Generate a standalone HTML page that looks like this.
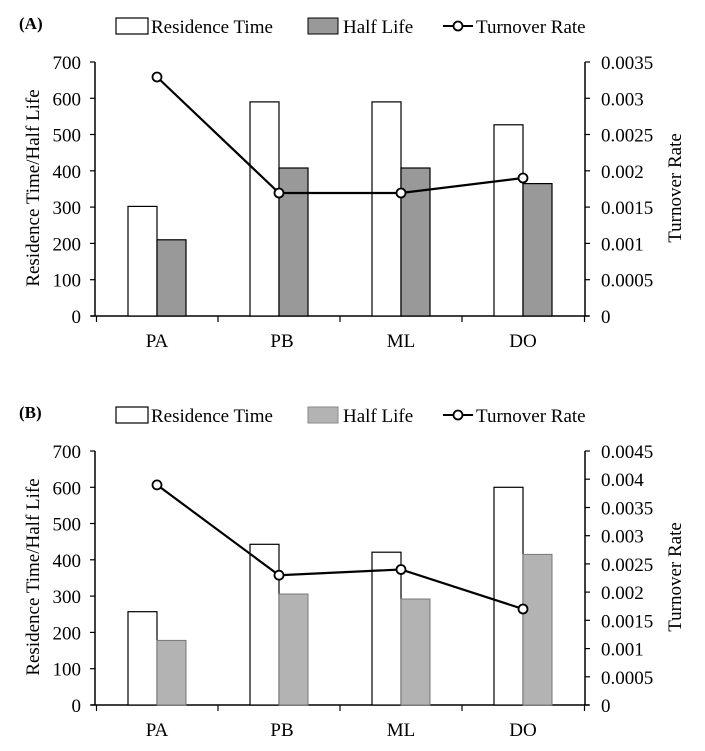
<!DOCTYPE html>
<html><head><meta charset="utf-8"><style>
html,body{margin:0;padding:0;background:#fff;}
svg{display:block;font-family:"Liberation Serif",serif;}
</style></head><body>
<svg width="705" height="751" viewBox="0 0 705 751" xmlns="http://www.w3.org/2000/svg">
<defs>
<g id="frame">
  <line x1="95" y1="62" x2="95" y2="316" stroke="#000" stroke-width="1.5"/>
  <line x1="585" y1="62" x2="585" y2="316" stroke="#000" stroke-width="1.5"/>
  <line x1="91" y1="316" x2="589" y2="316" stroke="#000" stroke-width="1.5"/>
  <g stroke="#000" stroke-width="1.2">
    <line x1="90" y1="316" x2="95" y2="316"/><line x1="90" y1="279.7" x2="95" y2="279.7"/>
    <line x1="90" y1="243.4" x2="95" y2="243.4"/><line x1="90" y1="207.1" x2="95" y2="207.1"/>
    <line x1="90" y1="170.8" x2="95" y2="170.8"/><line x1="90" y1="134.5" x2="95" y2="134.5"/>
    <line x1="90" y1="98.3" x2="95" y2="98.3"/><line x1="90" y1="62" x2="95" y2="62"/>
    <line x1="96.5" y1="316" x2="96.5" y2="322"/><line x1="218" y1="316" x2="218" y2="322"/>
    <line x1="340" y1="316" x2="340" y2="322"/><line x1="462" y1="316" x2="462" y2="322"/>
    <line x1="584.5" y1="316" x2="584.5" y2="322"/>
  </g>
  <g font-size="19" text-anchor="end" fill="#000">
    <text x="81" y="323">0</text><text x="81" y="286.7">100</text><text x="81" y="250.4">200</text>
    <text x="81" y="214.1">300</text><text x="81" y="177.8">400</text><text x="81" y="141.5">500</text>
    <text x="81" y="105.3">600</text><text x="81" y="69">700</text>
  </g>
  <g font-size="19" text-anchor="middle" fill="#000">
    <text x="157" y="347">PA</text><text x="282" y="347">PB</text>
    <text x="401" y="347">ML</text><text x="523" y="347">DO</text>
  </g>
  <text transform="translate(39,188) rotate(-90)" font-size="19" text-anchor="middle">Residence Time/Half Life</text>
  <text transform="translate(681,188) rotate(-90)" font-size="19" text-anchor="middle">Turnover Rate</text>
  <g font-size="19">
    <rect x="116" y="18" width="32" height="16" fill="#fff" stroke="#000" stroke-width="1.2"/>
    <text x="151" y="33">Residence Time</text>
    <text x="343" y="33">Half Life</text>
    <line x1="443" y1="26" x2="473" y2="26" stroke="#000" stroke-width="2"/>
    <circle cx="458" cy="26" r="4.5" fill="#fff" stroke="#000" stroke-width="1.8"/>
    <text x="476" y="33">Turnover Rate</text>
  </g>
</g>
</defs>

<!-- Panel A -->
<text x="19" y="29" font-size="17" font-weight="bold">(A)</text>
<use href="#frame"/>
<rect x="308" y="18" width="30" height="16" fill="#999" stroke="#000" stroke-width="1"/>
<g stroke="#000" stroke-width="1.2">
  <rect x="128" y="206.4" width="29" height="109.6" fill="#fff"/>
  <rect x="157" y="239.8" width="29" height="76.2" fill="#999"/>
  <rect x="250" y="101.9" width="29" height="214.1" fill="#fff"/>
  <rect x="279" y="168" width="29" height="148" fill="#999"/>
  <rect x="372" y="101.9" width="29" height="214.1" fill="#fff"/>
  <rect x="401" y="168" width="29" height="148" fill="#999"/>
  <rect x="494" y="124.8" width="29" height="191.2" fill="#fff"/>
  <rect x="523" y="183.6" width="29" height="132.4" fill="#999"/>
</g>
<g stroke="#000" stroke-width="1.2">
  <line x1="585" y1="316" x2="590" y2="316"/><line x1="585" y1="279.7" x2="590" y2="279.7"/>
  <line x1="585" y1="243.4" x2="590" y2="243.4"/><line x1="585" y1="207.1" x2="590" y2="207.1"/>
  <line x1="585" y1="170.8" x2="590" y2="170.8"/><line x1="585" y1="134.5" x2="590" y2="134.5"/>
  <line x1="585" y1="98.3" x2="590" y2="98.3"/><line x1="585" y1="62" x2="590" y2="62"/>
</g>
<g font-size="19">
  <text x="601" y="323">0</text><text x="601" y="286.7">0.0005</text><text x="601" y="250.4">0.001</text>
  <text x="601" y="214.1">0.0015</text><text x="601" y="177.8">0.002</text><text x="601" y="141.5">0.0025</text>
  <text x="601" y="105.3">0.003</text><text x="601" y="69">0.0035</text>
</g>
<polyline points="157,77 279,193 401,193 523,178" fill="none" stroke="#000" stroke-width="2.2"/>
<g fill="#fff" stroke="#000" stroke-width="1.8">
  <circle cx="157" cy="77" r="4.5"/><circle cx="279" cy="193" r="4.5"/>
  <circle cx="401" cy="193" r="4.5"/><circle cx="523" cy="178" r="4.5"/>
</g>

<!-- Panel B -->
<g transform="translate(0,389)">
<text x="19" y="29" font-size="17" font-weight="bold">(B)</text>
<use href="#frame"/>
<rect x="308" y="18" width="30" height="16" fill="#b3b3b3" stroke="#888" stroke-width="1"/>
<g stroke="#000" stroke-width="1.2">
  <rect x="128" y="222.7" width="29" height="93.3" fill="#fff"/>
  <rect x="250" y="155.3" width="29" height="160.7" fill="#fff"/>
  <rect x="372" y="163.2" width="29" height="152.8" fill="#fff"/>
  <rect x="494" y="98.3" width="29" height="217.7" fill="#fff"/>
</g>
<g stroke="#777" stroke-width="1" fill="#b3b3b3">
  <rect x="157" y="251.4" width="29" height="64.6"/>
  <rect x="279" y="205" width="29" height="111"/>
  <rect x="401" y="210" width="29" height="106"/>
  <rect x="523" y="165.4" width="29" height="150.6"/>
</g>
<g stroke="#000" stroke-width="1.2">
  <line x1="585" y1="316" x2="590" y2="316"/><line x1="585" y1="287.8" x2="590" y2="287.8"/>
  <line x1="585" y1="259.6" x2="590" y2="259.6"/><line x1="585" y1="231.3" x2="590" y2="231.3"/>
  <line x1="585" y1="203.1" x2="590" y2="203.1"/><line x1="585" y1="174.9" x2="590" y2="174.9"/>
  <line x1="585" y1="146.7" x2="590" y2="146.7"/><line x1="585" y1="118.5" x2="590" y2="118.5"/>
  <line x1="585" y1="90.2" x2="590" y2="90.2"/><line x1="585" y1="62" x2="590" y2="62"/>
</g>
<g font-size="19">
  <text x="601" y="323">0</text><text x="601" y="294.8">0.0005</text><text x="601" y="266.6">0.001</text>
  <text x="601" y="238.3">0.0015</text><text x="601" y="210.1">0.002</text><text x="601" y="181.9">0.0025</text>
  <text x="601" y="153.7">0.003</text><text x="601" y="125.5">0.0035</text><text x="601" y="97.2">0.004</text>
  <text x="601" y="69">0.0045</text>
</g>
<polyline points="157,95.9 279,186.2 401,180.5 523,220" fill="none" stroke="#000" stroke-width="2.2"/>
<g fill="#fff" stroke="#000" stroke-width="1.8">
  <circle cx="157" cy="95.9" r="4.5"/><circle cx="279" cy="186.2" r="4.5"/>
  <circle cx="401" cy="180.5" r="4.5"/><circle cx="523" cy="220" r="4.5"/>
</g>
</g>
</svg>
</body></html>
